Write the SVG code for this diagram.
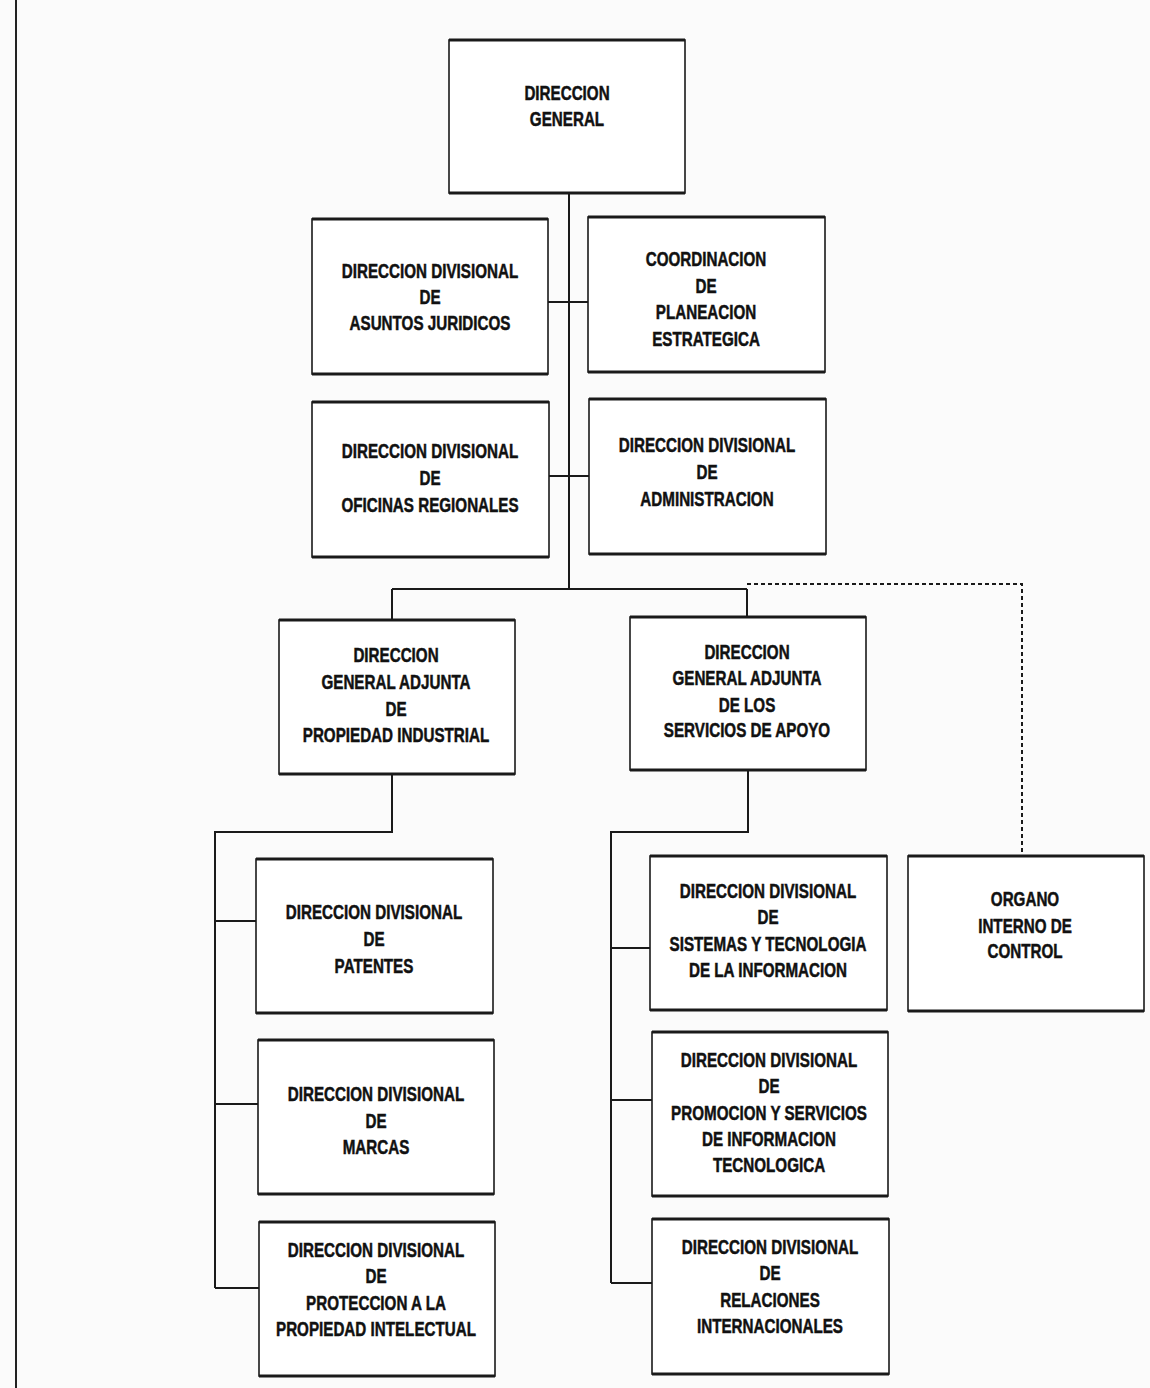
<svg xmlns="http://www.w3.org/2000/svg" width="1150" height="1388" viewBox="0 0 1150 1388">
<style>
.bg{fill:#fbfbfb}
.box{fill:#ffffff;stroke:#1a1a1a;stroke-width:1.6}
.edge{stroke:#1a1a1a;stroke-width:3.2;fill:none}
.ln{stroke:#1a1a1a;stroke-width:2;fill:none}
.dash{stroke:#1a1a1a;stroke-width:2;fill:none;stroke-dasharray:4 3}
.t{font-family:"Liberation Sans",Arial,sans-serif;font-weight:bold;font-size:20px;fill:#111;stroke:#111;stroke-width:0.5;text-anchor:middle}
</style>
<rect class="bg" x="0" y="0" width="1150" height="1388"/>
<line x1="16" y1="0" x2="16" y2="1388" stroke="#222" stroke-width="2"/>
<g id="connectors">
<path class="ln" d="M569 193 V589"/>
<path class="ln" d="M548 302 H588"/>
<path class="ln" d="M549 476 H589"/>
<path class="ln" d="M392 589 H747"/>
<path class="ln" d="M392 589 V620"/>
<path class="ln" d="M747 589 V617"/>
<path class="dash" d="M747 584 H1022 V856"/>
<path class="ln" d="M392 774 V832 H215 V1288"/>
<path class="ln" d="M215 921 H256"/>
<path class="ln" d="M215 1104 H258"/>
<path class="ln" d="M215 1288 H259"/>
<path class="ln" d="M748 770 V832 H611 V1283"/>
<path class="ln" d="M611 948 H650"/>
<path class="ln" d="M611 1100 H652"/>
<path class="ln" d="M611 1283 H652"/>
</g>
<g id="n-direccion-general">
<rect class="box" x="449" y="40" width="236" height="153"/>
<path class="edge" d="M449 40 H685 M449 193 H685"/>
<text class="t" transform="translate(567 0) scale(0.76 1)"><tspan x="0" y="100">DIRECCION</tspan><tspan x="0" y="126">GENERAL</tspan></text>
</g>
<g id="n-asuntos-juridicos">
<rect class="box" x="312" y="219" width="236" height="155"/>
<path class="edge" d="M312 219 H548 M312 374 H548"/>
<text class="t" transform="translate(430 0) scale(0.76 1)"><tspan x="0" y="278">DIRECCION DIVISIONAL</tspan><tspan x="0" y="304">DE</tspan><tspan x="0" y="330">ASUNTOS JURIDICOS</tspan></text>
</g>
<g id="n-planeacion">
<rect class="box" x="588" y="217" width="237" height="155"/>
<path class="edge" d="M588 217 H825 M588 372 H825"/>
<text class="t" transform="translate(706 0) scale(0.76 1)"><tspan x="0" y="266">COORDINACION</tspan><tspan x="0" y="293">DE</tspan><tspan x="0" y="319">PLANEACION</tspan><tspan x="0" y="346">ESTRATEGICA</tspan></text>
</g>
<g id="n-oficinas-regionales">
<rect class="box" x="312" y="402" width="237" height="155"/>
<path class="edge" d="M312 402 H549 M312 557 H549"/>
<text class="t" transform="translate(430 0) scale(0.76 1)"><tspan x="0" y="458">DIRECCION DIVISIONAL</tspan><tspan x="0" y="485">DE</tspan><tspan x="0" y="512">OFICINAS REGIONALES</tspan></text>
</g>
<g id="n-administracion">
<rect class="box" x="589" y="399" width="237" height="155"/>
<path class="edge" d="M589 399 H826 M589 554 H826"/>
<text class="t" transform="translate(707 0) scale(0.76 1)"><tspan x="0" y="452">DIRECCION DIVISIONAL</tspan><tspan x="0" y="479">DE</tspan><tspan x="0" y="506">ADMINISTRACION</tspan></text>
</g>
<g id="n-propiedad-industrial">
<rect class="box" x="279" y="620" width="236" height="154"/>
<path class="edge" d="M279 620 H515 M279 774 H515"/>
<text class="t" transform="translate(396 0) scale(0.76 1)"><tspan x="0" y="662">DIRECCION</tspan><tspan x="0" y="689">GENERAL ADJUNTA</tspan><tspan x="0" y="716">DE</tspan><tspan x="0" y="742">PROPIEDAD INDUSTRIAL</tspan></text>
</g>
<g id="n-servicios-apoyo">
<rect class="box" x="630" y="617" width="236" height="153"/>
<path class="edge" d="M630 617 H866 M630 770 H866"/>
<text class="t" transform="translate(747 0) scale(0.76 1)"><tspan x="0" y="659">DIRECCION</tspan><tspan x="0" y="685">GENERAL ADJUNTA</tspan><tspan x="0" y="712">DE LOS</tspan><tspan x="0" y="737">SERVICIOS DE APOYO</tspan></text>
</g>
<g id="n-patentes">
<rect class="box" x="256" y="859" width="237" height="154"/>
<path class="edge" d="M256 859 H493 M256 1013 H493"/>
<text class="t" transform="translate(374 0) scale(0.76 1)"><tspan x="0" y="919">DIRECCION DIVISIONAL</tspan><tspan x="0" y="946">DE</tspan><tspan x="0" y="973">PATENTES</tspan></text>
</g>
<g id="n-marcas">
<rect class="box" x="258" y="1040" width="236" height="154"/>
<path class="edge" d="M258 1040 H494 M258 1194 H494"/>
<text class="t" transform="translate(376 0) scale(0.76 1)"><tspan x="0" y="1101">DIRECCION DIVISIONAL</tspan><tspan x="0" y="1128">DE</tspan><tspan x="0" y="1154">MARCAS</tspan></text>
</g>
<g id="n-proteccion">
<rect class="box" x="259" y="1222" width="236" height="154"/>
<path class="edge" d="M259 1222 H495 M259 1376 H495"/>
<text class="t" transform="translate(376 0) scale(0.76 1)"><tspan x="0" y="1257">DIRECCION DIVISIONAL</tspan><tspan x="0" y="1283">DE</tspan><tspan x="0" y="1310">PROTECCION A LA</tspan><tspan x="0" y="1336">PROPIEDAD INTELECTUAL</tspan></text>
</g>
<g id="n-sistemas">
<rect class="box" x="650" y="856" width="237" height="154"/>
<path class="edge" d="M650 856 H887 M650 1010 H887"/>
<text class="t" transform="translate(768 0) scale(0.76 1)"><tspan x="0" y="898">DIRECCION DIVISIONAL</tspan><tspan x="0" y="924">DE</tspan><tspan x="0" y="951">SISTEMAS Y TECNOLOGIA</tspan><tspan x="0" y="977">DE LA INFORMACION</tspan></text>
</g>
<g id="n-promocion">
<rect class="box" x="652" y="1032" width="236" height="164"/>
<path class="edge" d="M652 1032 H888 M652 1196 H888"/>
<text class="t" transform="translate(769 0) scale(0.76 1)"><tspan x="0" y="1067">DIRECCION DIVISIONAL</tspan><tspan x="0" y="1093">DE</tspan><tspan x="0" y="1120">PROMOCION Y SERVICIOS</tspan><tspan x="0" y="1146">DE INFORMACION</tspan><tspan x="0" y="1172">TECNOLOGICA</tspan></text>
</g>
<g id="n-relaciones">
<rect class="box" x="652" y="1219" width="237" height="155"/>
<path class="edge" d="M652 1219 H889 M652 1374 H889"/>
<text class="t" transform="translate(770 0) scale(0.76 1)"><tspan x="0" y="1254">DIRECCION DIVISIONAL</tspan><tspan x="0" y="1280">DE</tspan><tspan x="0" y="1307">RELACIONES</tspan><tspan x="0" y="1333">INTERNACIONALES</tspan></text>
</g>
<g id="n-organo-control">
<rect class="box" x="908" y="856" width="236" height="155"/>
<path class="edge" d="M908 856 H1144 M908 1011 H1144"/>
<text class="t" transform="translate(1025 0) scale(0.76 1)"><tspan x="0" y="906">ORGANO</tspan><tspan x="0" y="933">INTERNO DE</tspan><tspan x="0" y="958">CONTROL</tspan></text>
</g>
</svg>
